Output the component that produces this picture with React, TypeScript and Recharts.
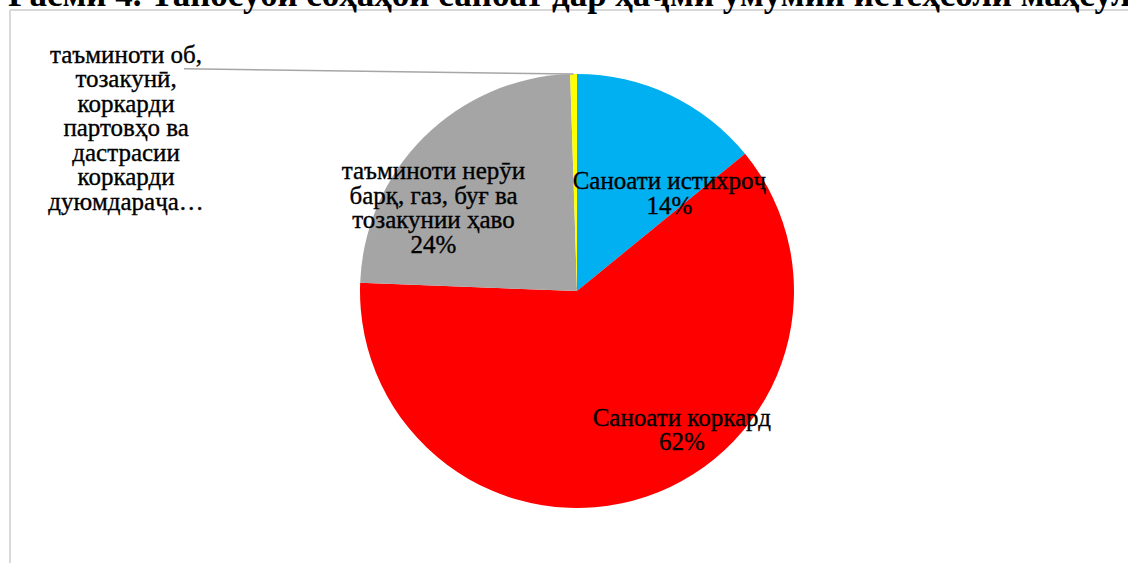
import { PieChart, Pie, Cell } from "recharts"

const title = "Расми 4. Таносуби соҳаҳои саноат дар ҳаҷми умумии истеҳсоли маҳсулот"

const categories = [
  "Саноати истихроҷ",
  "Саноати коркард",
  "таъминоти нерӯи барқ, газ, буғ ва тозакунии ҳаво",
  "таъминоти об, тозакунӣ, коркарди партовҳо ва дастрасии коркарди дуюмдараҷа…",
]
const shares = [14.1, 61.5, 23.9, 0.5]
const labelLines = [
  ["Саноати истихроҷ"],
  ["Саноати коркард"],
  ["таъминоти нерӯи", "барқ, газ, буғ ва", "тозакунии ҳаво"],
  ["таъминоти об,", "тозакунӣ,", "коркарди", "партовҳо ва", "дастрасии", "коркарди", "дуюмдараҷа…"],
]
const showPercent = [true, true, true, false]
const colors = ["#00b0f0", "#ff0000", "#a5a5a5", "#ffff00"]

const data = categories.map((name, i) => ({ name, value: shares[i] }))

// where excel put each label: angle shift from the slice middle, distance as a share of the radius
const placement = [
  { shift: -18, r: 0.62 },
  { shift: 18.6, r: 0.8 },
  { shift: 15, r: 0.765 },
  { shift: 69.2, r: 2.21 },
]
const RAD = Math.PI / 180
const FONT = "'Liberation Serif', 'Times New Roman', serif"

function renderLabel(props: any) {
  const { cx, cy, midAngle, outerRadius, percent, index } = props
  const p = placement[index]
  const a = (midAngle + p.shift) * RAD
  const x = cx + outerRadius * p.r * Math.cos(a)
  const y = cy - outerRadius * p.r * Math.sin(a)
  const lines = [...labelLines[index]]
  if (showPercent[index]) lines.push(`${Math.round(percent * 100)}%`)
  const lh = 24.5
  const y0 = y - ((lines.length - 1) * lh) / 2
  let leader = null
  if (!showPercent[index]) {
    const ex = cx + outerRadius * Math.cos(midAngle * RAD)
    const ey = cy - outerRadius * Math.sin(midAngle * RAD)
    leader = <line x1={x + 58} y1={y - 59} x2={ex} y2={ey} stroke="#a6a6a6" strokeWidth={1.5} />
  }
  return (
    <g key={`lbl-${index}`}>
      {leader}
      <text textAnchor="middle" fontFamily={FONT} fontSize={25} fill="#000" stroke="#000" strokeWidth={0.35}>
        {lines.map((t, i) => (
          <tspan key={i} x={x} y={y0 + i * lh} dominantBaseline="central">
            {t}
          </tspan>
        ))}
      </text>
    </g>
  )
}

export default function App() {
  return (
    <div style={{ position: "fixed", left: 0, top: 0, width: 1128, height: 563, overflow: "hidden", background: "#fff" }}>
      <svg width={1128} height={563} style={{ position: "absolute", left: 0, top: 0 }}>
        <line x1={10} y1={10} x2={1128} y2={10} stroke="#d9d9d9" strokeWidth={2} />
        <line x1={10} y1={10} x2={10} y2={563} stroke="#d9d9d9" strokeWidth={2} />
        <text x={8} y={6} fontFamily={FONT} fontWeight="bold" fontSize={35} fill="#000" style={{ whiteSpace: "pre" }}>
          {title}
        </text>
      </svg>
      <div style={{ position: "absolute", left: 0, top: 0 }}>
        <PieChart width={1128} height={563}>
          <Pie
            data={data}
            dataKey="value"
            nameKey="name"
            cx={572}
            cy={286}
            outerRadius={217}
            startAngle={90}
            endAngle={-270}
            stroke="none"
            label={renderLabel}
            labelLine={false}
            isAnimationActive={false}
          >
            {data.map((d, i) => (
              <Cell key={d.name} fill={colors[i]} />
            ))}
          </Pie>
        </PieChart>
      </div>
    </div>
  )
}
